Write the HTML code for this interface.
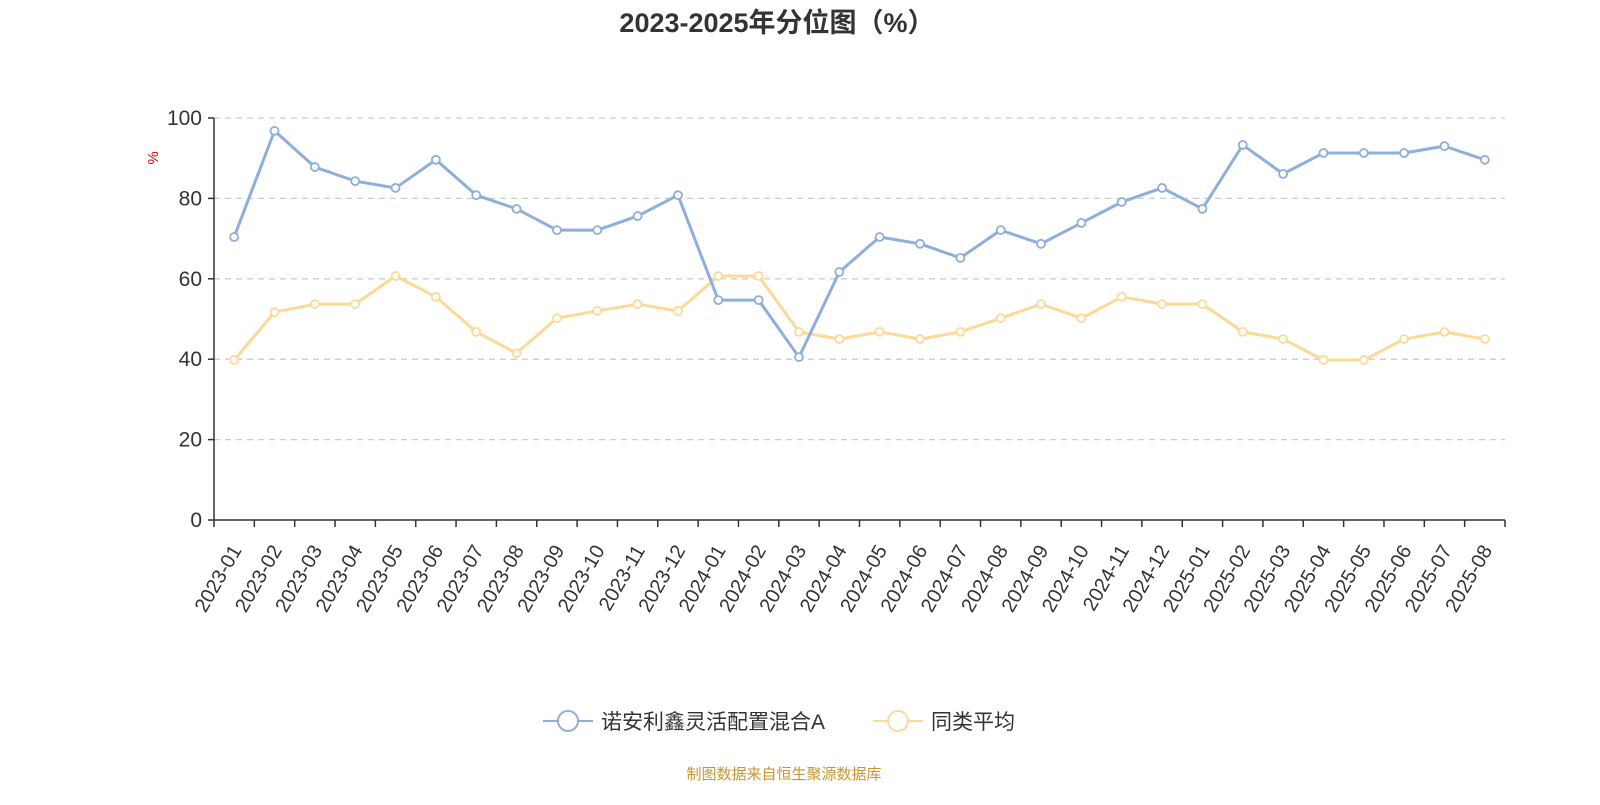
<!DOCTYPE html>
<html><head><meta charset="utf-8"><style>
body{margin:0;background:#fff;}
svg text{font-family:"Liberation Sans","Noto Sans CJK SC",sans-serif;}
</style></head><body>
<svg id="chart" width="1600" height="800" xmlns="http://www.w3.org/2000/svg">
<text x="777" y="32" text-anchor="middle" font-size="27" font-weight="bold" fill="#333">2023-2025年分位图（%）</text>
<text x="0" y="0" transform="translate(158,158) rotate(-90)" text-anchor="middle" font-size="15" fill="#e00">%</text>
<g id="grid"></g><g id="axes"></g><g id="series"></g>
<g>
<g>
<line x1="543" y1="721" x2="593" y2="721" stroke="#8eaedb" stroke-width="2"/>
<circle cx="568" cy="721" r="10" fill="#fff" stroke="#8eaedb" stroke-width="2"/>
<text x="601" y="729" font-size="21" fill="#333">诺安利鑫灵活配置混合A</text></g>
<g>
<line x1="873" y1="721" x2="923" y2="721" stroke="#fcd997" stroke-width="2"/>
<circle cx="898" cy="721" r="10" fill="#fff" stroke="#fcd997" stroke-width="2"/>
<text x="931" y="729" font-size="21" fill="#333">同类平均</text></g>
</g>
<text x="784" y="779" text-anchor="middle" font-size="15" fill="#c8962e">制图数据来自恒生聚源数据库</text>
</svg>
<script>
const categories=["2023-01","2023-02","2023-03","2023-04","2023-05","2023-06","2023-07","2023-08","2023-09","2023-10","2023-11","2023-12","2024-01","2024-02","2024-03","2024-04","2024-05","2024-06","2024-07","2024-08","2024-09","2024-10","2024-11","2024-12","2025-01","2025-02","2025-03","2025-04","2025-05","2025-06","2025-07","2025-08"];
const fundValues=[70.4,96.8,87.8,84.3,82.6,89.6,80.8,77.4,72.1,72.1,75.6,80.8,54.7,54.7,40.5,61.7,70.4,68.7,65.2,72.1,68.7,73.9,79.1,82.6,77.4,93.3,86.1,91.3,91.3,91.3,93.0,89.6];
const avgValues=[39.8,51.7,53.7,53.7,60.7,55.5,46.8,41.5,50.2,52.0,53.7,52.0,60.7,60.7,46.8,45.0,46.8,45.0,46.8,50.2,53.7,50.2,55.5,53.7,53.7,46.8,45.0,39.8,39.8,45.0,46.8,45.0];
const yTicks=[0,20,40,60,80,100];
const NS="http://www.w3.org/2000/svg";
const x0=214,x1=1505,yb=520,yt=118;
const bw=(x1-x0)/categories.length;
const xs=i=>x0+bw*(i+0.5);
const ys=v=>yb-(v/100)*(yb-yt);
function mk(tag,attrs,parent){const e=document.createElementNS(NS,tag);for(const k in attrs)e.setAttribute(k,attrs[k]);parent.appendChild(e);return e;}
const grid=document.getElementById('grid'),axes=document.getElementById('axes'),ser=document.getElementById('series');
yTicks.forEach(t=>{
  if(t>0){const l=mk('line',{x1:x0,x2:x1,y1:ys(t),y2:ys(t),stroke:'#ccc','stroke-dasharray':'6,5','stroke-width':1.3},grid);
  
  }
  const tk=mk('line',{x1:x0-6,x2:x0,y1:ys(t),y2:ys(t),stroke:'#333','stroke-width':1.5},axes);
  
  
  const tx=mk('text',{x:x0-12,y:ys(t)+7,'text-anchor':'end','font-size':21,fill:'#333'},axes);
  
  
  tx.textContent=t;
});
const ya=mk('line',{x1:x0,x2:x0,y1:yt,y2:yb,stroke:'#333','stroke-width':1.5},axes);


const xa=mk('line',{x1:x0,x2:x1,y1:yb,y2:yb,stroke:'#333','stroke-width':1.5},axes);


for(let i=0;i<=categories.length;i++){
  const tk=mk('line',{x1:x0+bw*i,x2:x0+bw*i,y1:yb,y2:yb+7,stroke:'#333','stroke-width':1.5},axes);
  
  
}
categories.forEach((c,i)=>{
  const x=xs(i)+8,y=yb+30;
  const t=mk('text',{x:x,y:y,'text-anchor':'end','font-size':20,fill:'#333',transform:`rotate(-60 ${x} ${y})`},axes);
  
  
  t.textContent=c;
});
function drawSeries(vals,color,name){
  const p=mk('polyline',{points:vals.map((v,i)=>xs(i)+','+ys(v)).join(' '),fill:'none',stroke:color,'stroke-width':3,'stroke-linejoin':'round'},ser);
  
  
  vals.forEach((v,i)=>{
    const c=mk('circle',{cx:xs(i),cy:ys(v),r:4,fill:'#fff',stroke:color,'stroke-width':1.8},ser);
    
    
  });
}
drawSeries(avgValues,'#fcd997','average');
drawSeries(fundValues,'#8eaedb','fund');
</script>
</body></html>
